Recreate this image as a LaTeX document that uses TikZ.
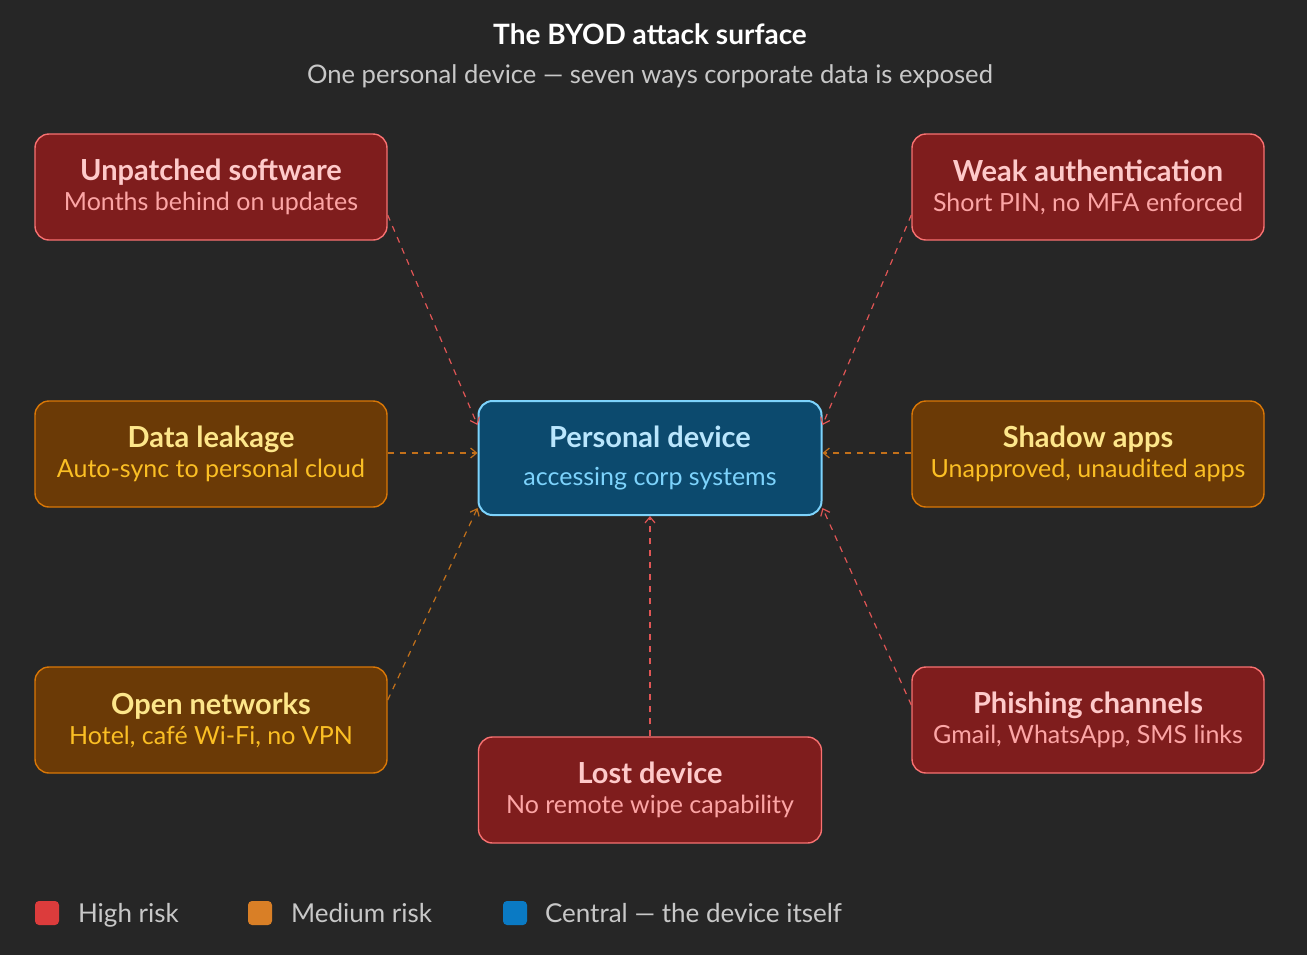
\documentclass[tikz,border=0pt]{standalone}
\usepackage{fontspec}
\setmainfont{Lato}
\usetikzlibrary{arrows.meta}
\definecolor{bg}{HTML}{262626}
\definecolor{rfill}{HTML}{7F1D1D}\definecolor{rline}{HTML}{F87171}
\definecolor{rt}{HTML}{FECACA}\definecolor{rs}{HTML}{FCA5A5}
\definecolor{ofill}{HTML}{6B3A06}\definecolor{oline}{HTML}{D97706}
\definecolor{ot}{HTML}{FDE68A}\definecolor{os}{HTML}{FBBF24}
\definecolor{bfill}{HTML}{0C4A6E}\definecolor{bline}{HTML}{7DD3FC}
\definecolor{bt}{HTML}{BAE6FD}\definecolor{bs}{HTML}{7DD3FC}
\definecolor{rarr}{HTML}{E05555}\definecolor{oarr}{HTML}{C2701A}
\definecolor{keyr}{HTML}{DC3C3C}\definecolor{keyo}{HTML}{D97F26}\definecolor{keyb}{HTML}{0A7AC4}
\definecolor{grey}{HTML}{C8C8C8}
\tikzset{
 box/.style={draw, line width=0.7pt, rounded corners=7pt, minimum width=176pt, minimum height=53pt, align=center, inner sep=0pt},
 rbox/.style={box, fill=rfill, draw=rline},
 obox/.style={box, fill=ofill, draw=oline},
 rcon/.style={draw=rarr, dashed, line width=0.6pt, -{Straight Barb[length=3pt,width=5pt]}},
 ocon/.style={draw=oarr, dashed, line width=0.6pt, -{Straight Barb[length=3pt,width=5pt]}},
 key/.style={rounded corners=2pt, minimum size=12pt, inner sep=0pt},
 lg/.style={anchor=base west, font=\fontsize{13}{15}\selectfont, text=grey},
}
\newcommand{\bx}[4]{{\fontsize{14.5}{18}\selectfont\bfseries\color{#1}#3}\\[3pt]{\fontsize{12.5}{15}\selectfont\color{#2}#4}}
\begin{document}
\begin{tikzpicture}[x=0.5pt,y=-0.5pt]
\fill[bg] (0,0) rectangle (1307,955);
\node (t) at (650,34) {\fontsize{14}{16}\selectfont\bfseries\color{white}The BYOD attack surface};
\node (st) at (650,76) {\fontsize{12.8}{15}\selectfont\color{grey}One personal device — seven ways corporate data is exposed};
\node[rbox] (up) at (211,187) {\bx{rt}{rs}{Unpatched software}{Months behind on updates}};
\node[rbox] (wa) at (1088,187) {\bx{rt}{rs}{Weak authentication}{Short PIN, no MFA enforced}};
\node[obox] (dl) at (211,454) {\bx{ot}{os}{Data leakage}{Auto-sync to personal cloud}};
\node[obox] (sa) at (1088,454) {\bx{ot}{os}{Shadow apps}{Unapproved, unaudited apps}};
\node[obox] (on) at (211,720) {\bx{ot}{os}{Open networks}{Hotel, café Wi-Fi, no VPN}};
\node[rbox] (ph) at (1088,720) {\bx{rt}{rs}{Phishing channels}{Gmail, WhatsApp, SMS links}};
\node[rbox, minimum width=171.5pt] (ld) at (650,790) {\bx{rt}{rs}{Lost device}{No remote wipe capability}};
\node[box, fill=bfill, draw=bline, line width=1pt, minimum width=171.5pt, minimum height=57pt] (pd) at (650,458) {{\fontsize{14.5}{18}\selectfont\bfseries\color{bt}Personal device}\\[7pt]{\fontsize{12.5}{15}\selectfont\color{bs}accessing corp systems}};
\draw[rcon] ([shift={(0,28)}]up.east) -- ([shift={(0,-33)}]pd.west);
\draw[rcon] ([shift={(0,28)}]wa.west) -- ([shift={(0,-33)}]pd.east);
\draw[ocon] ([shift={(0,-1)}]dl.east) -- ([shift={(0,-5)}]pd.west);
\draw[ocon] ([shift={(0,-1)}]sa.west) -- ([shift={(0,-5)}]pd.east);
\draw[ocon] ([shift={(0,-20)}]on.east) -- ([shift={(0,50)}]pd.west);
\draw[rcon] ([shift={(0,-15)}]ph.west) -- ([shift={(0,50)}]pd.east);
\draw[rcon] (ld.north) -- (pd.south);
\node[key, fill=keyr] (k1) at (47,913) {};
\node[lg] (l1) at (71,922) {High risk};
\node[key, fill=keyo] (k2) at (260,913) {};
\node[lg] (l2) at (284,922) {Medium risk};
\node[key, fill=keyb] (k3) at (515,913) {};
\node[lg] (l3) at (538,922) {Central — the device itself};
\end{tikzpicture}
\end{document}
